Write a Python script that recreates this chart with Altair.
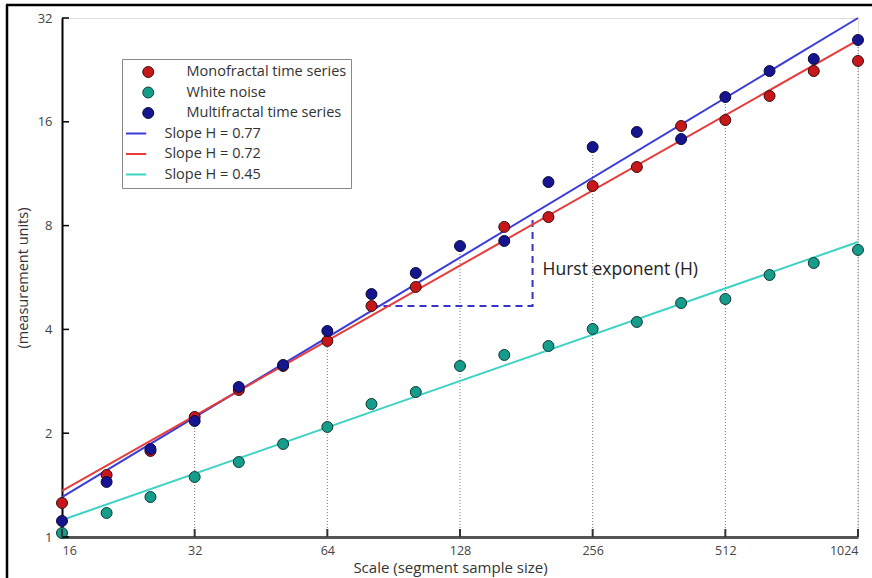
import altair as alt
import pandas as pd

# ---------------- data ----------------
scale_x = [16, 20.2, 25.4, 32, 40.3, 50.8, 64, 80.6, 101.6, 128, 161.3, 203.2,
           256, 322.5, 406.4, 512, 645.1, 812.7, 1024]
mono = [1.255, 1.513, 1.776, 2.229, 2.669, 3.133, 3.702, 4.677, 5.31, None, 7.93,
        8.47, 10.42, 11.83, 15.56, 16.19, 19.01, 22.46, 24.02]
white = [1.027, 1.174, 1.306, 1.493, 1.650, 1.861, 2.085, 2.431, 2.633, 3.133, 3.372,
         3.580, 4.011, 4.203, 4.771, 4.900, 5.752, 6.232, 6.80]
multi = [1.113, 1.444, 1.80, 2.17, 2.723, 3.154, 3.958, 5.066, 5.83, 6.98, 7.22,
         10.70, 13.52, 14.95, 14.26, 18.88, 22.46, 24.34, 27.63]
point_labels = ["Monofractal time series", "White noise", "Multifractal time series"]

slope_labels = ["Slope H = 0.77", "Slope H = 0.72", "Slope H = 0.45"]
line_x = [16, 1024]
line_start = [1.306, 1.36, 1.12]
line_end = [32.0, 27.6, 7.17]

hurst_x = [80.6, 187, 187]
hurst_y = [4.68, 4.68, 8.5]
hurst_text = "Hurst exponent (H)"
hurst_text_x = [197]
hurst_text_y = [5.95]

x_ticks = [16, 32, 64, 128, 256, 512, 1024]
y_ticks = [1, 2, 4, 8, 16, 32]
stem_x = [32, 64, 128, 256, 512, 1024]

# ---------------- tables ----------------
rows = []
for lab, vals in zip(point_labels, [mono, white, multi]):
    for xv, yv in zip(scale_x, vals):
        if yv is not None:
            rows.append({"series": lab, "x": xv, "y": yv})
df_pts = pd.DataFrame(rows)

lrows = []
for lab, a, b in zip(slope_labels, line_start, line_end):
    lrows.append({"series": lab, "x": line_x[0], "y": a})
    lrows.append({"series": lab, "x": line_x[1], "y": b})
df_lines = pd.DataFrame(lrows)

stem_rows = []
for sx in stem_x:
    i = scale_x.index(sx)
    top = max(v[i] for v in [mono, white, multi] if v[i] is not None)
    stem_rows.append({"x": sx, "lo": 1, "hi": top})
df_stems = pd.DataFrame(stem_rows)

df_hurst = pd.DataFrame({"x": hurst_x, "y": hurst_y, "o": [0, 1, 2]})
df_htext = pd.DataFrame({"x": hurst_text_x, "y": hurst_text_y, "t": [hurst_text]})
df_yt = pd.DataFrame({"x": [16] * len(y_ticks), "y": y_ticks})
df_xt = pd.DataFrame({"x": x_ticks, "y": [1] * len(x_ticks)})
df_one = pd.DataFrame({"a": [0]})

# ---------------- scales / legend ----------------
FONT = "Open Sans"
xs = alt.Scale(type="log", base=2, domain=[16, 1024], nice=False)
ys = alt.Scale(type="log", base=2, domain=[1, 32], nice=False)

legend_domain = point_labels + slope_labels
fill_range = ["#c8171a", "#169c8b", "#15158f", "transparent", "transparent", "transparent"]
stroke_range = ["#3a0c0c", "#0c3a34", "#0a0a3c", "#3c3cd8", "#e63c3c", "#3cd2c4"]
shape_range = ["circle", "circle", "circle", "stroke", "stroke", "stroke"]

sym_size = alt.ExprRef(expr="test(/^Slope/, datum.value) ? 1600 : 120")
sym_sw = alt.ExprRef(expr="test(/^Slope/, datum.value) ? 2 : 1")
sym_off = alt.ExprRef(expr="test(/^Slope/, datum.value) ? -7 : 15")
leg = alt.Legend(orient="none", legendX=60, legendY=41, title=None, columns=1,
                 clipHeight=18, labelFont=FONT, labelFontSize=14.5, labelColor="#333",
                 strokeColor="#888", fillColor="white", padding=4, labelOffset=31,
                 rowPadding=2.5, symbolSize=sym_size, symbolStrokeWidth=sym_sw,
                 symbolOffset=sym_off)

X = alt.X("x:Q", scale=xs, axis=alt.Axis(values=x_ticks, format="d",
          title="Scale (segment sample size)", ticks=False, grid=False,
          domainColor="#555", domainWidth=3, labelPadding=7, titlePadding=4,
          titleX=388, titleAlign="center",
          labelFont=FONT, labelFontSize=12.5, labelColor="#444",
          titleFont=FONT, titleFontSize=15, titleFontWeight="normal", titleColor="#333"))
Y = alt.Y("y:Q", scale=ys, axis=alt.Axis(values=y_ticks, format="d",
          title="(measurement units)", ticks=False, grid=False,
          domainColor="black", domainWidth=2, labelPadding=10, titlePadding=7,
          labelFont=FONT, labelFontSize=13, labelColor="#444",
          titleFont=FONT, titleFontSize=14.5, titleFontWeight="normal", titleColor="#333"))

stems = alt.Chart(df_stems).mark_rule(strokeDash=[1, 2], color="#777", strokeWidth=1).encode(
    x=alt.X("x:Q", scale=xs), y=alt.Y("lo:Q", scale=ys), y2="hi:Q")

hurst = alt.Chart(df_hurst).mark_line(strokeDash=[7, 5], color="#3434c8", strokeWidth=2).encode(
    x=alt.X("x:Q", scale=xs), y=alt.Y("y:Q", scale=ys), order="o:Q")

lines = alt.Chart(df_lines).mark_line(opacity=1, strokeWidth=2).encode(
    x=X, y=Y,
    stroke=alt.Stroke("series:N", scale=alt.Scale(domain=legend_domain, range=stroke_range), legend=leg),
)

pts = alt.Chart(df_pts).mark_point(filled=True, opacity=1, strokeWidth=1, size=120).encode(
    x=alt.X("x:Q", scale=xs), y=alt.Y("y:Q", scale=ys),
    fill=alt.Fill("series:N", scale=alt.Scale(domain=legend_domain, range=fill_range), legend=leg),
    stroke=alt.Stroke("series:N", scale=alt.Scale(domain=legend_domain, range=stroke_range), legend=leg),
    shape=alt.Shape("series:N", scale=alt.Scale(domain=legend_domain, range=shape_range), legend=leg),
)

htext = alt.Chart(df_htext).mark_text(align="left", baseline="middle", font=FONT,
                                      fontSize=17.5, color="#222").encode(
    x=alt.X("x:Q", scale=xs), y=alt.Y("y:Q", scale=ys), text="t:N")

yticks = alt.Chart(df_yt).mark_tick(orient="horizontal", size=7, thickness=1.5,
                                    xOffset=3.5, color="black", opacity=1).encode(
    x=alt.X("x:Q", scale=xs), y=alt.Y("y:Q", scale=ys))
xticks = alt.Chart(df_xt).mark_tick(orient="vertical", size=8, thickness=2,
                                    yOffset=-4, color="#333", opacity=1).encode(
    x=alt.X("x:Q", scale=xs), y=alt.Y("y:Q", scale=ys))

frame_left = alt.Chart(df_one).mark_rule(color="black", strokeWidth=2.5).encode(
    x=alt.value(-55), y=alt.value(-13), y2=alt.value(562))
frame_top = alt.Chart(df_one).mark_rule(color="black", strokeWidth=2.5).encode(
    x=alt.value(-56), x2=alt.value(812), y=alt.value(-13))

chart = alt.layer(stems, hurst, lines, pts, htext, yticks, xticks, frame_left, frame_top).properties(
    width=796, height=519,
    padding={"left": 62, "top": 18, "right": 14, "bottom": 41},
    autosize=alt.AutoSizeParams(type="none"),
).configure_view(strokeWidth=0).configure(background="white")

chart.save("out.html", embed_options={"renderer": "svg", "actions": False})
